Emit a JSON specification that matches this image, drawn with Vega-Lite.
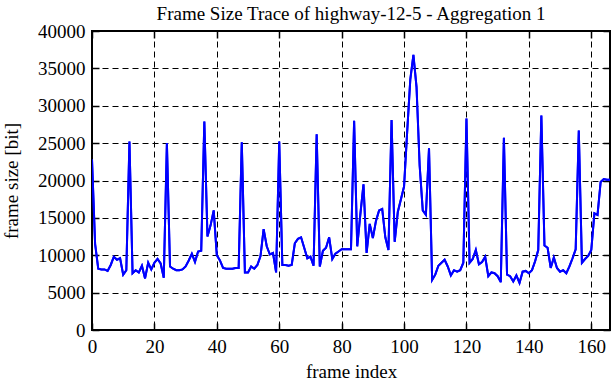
{
  "$schema": "https://vega.github.io/schema/vega-lite/v6.json",
  "width": 518,
  "height": 299,
  "autosize": "none",
  "padding": {"left": 92, "top": 31, "right": 2, "bottom": 52},
  "background": "white",
  "title": {"text": "Frame Size Trace of highway-12-5 - Aggregation 1", "font": "Liberation Serif", "fontSize": 19, "fontWeight": "normal", "color": "black", "offset": -2},
  "data": {"values": [
    {"frame": 0, "size": 22800}, {"frame": 1, "size": 11500}, {"frame": 2, "size": 8200}, {"frame": 3, "size": 8100}, {"frame": 4, "size": 8100},
    {"frame": 5, "size": 7900}, {"frame": 6, "size": 8700}, {"frame": 7, "size": 9800}, {"frame": 8, "size": 9400}, {"frame": 9, "size": 9600},
    {"frame": 10, "size": 7400}, {"frame": 11, "size": 8000}, {"frame": 12, "size": 25200}, {"frame": 13, "size": 7600}, {"frame": 14, "size": 8000},
    {"frame": 15, "size": 7700}, {"frame": 16, "size": 8600}, {"frame": 17, "size": 6900}, {"frame": 18, "size": 9000}, {"frame": 19, "size": 8100},
    {"frame": 20, "size": 9000}, {"frame": 21, "size": 9500}, {"frame": 22, "size": 8900}, {"frame": 23, "size": 7000}, {"frame": 24, "size": 25000},
    {"frame": 25, "size": 8500}, {"frame": 26, "size": 8200}, {"frame": 27, "size": 8000}, {"frame": 28, "size": 8000}, {"frame": 29, "size": 8100},
    {"frame": 30, "size": 8500}, {"frame": 31, "size": 9300}, {"frame": 32, "size": 10200}, {"frame": 33, "size": 9100}, {"frame": 34, "size": 10500},
    {"frame": 35, "size": 10600}, {"frame": 36, "size": 27900}, {"frame": 37, "size": 12500}, {"frame": 38, "size": 14000}, {"frame": 39, "size": 16000},
    {"frame": 40, "size": 10000}, {"frame": 41, "size": 9300}, {"frame": 42, "size": 8300}, {"frame": 43, "size": 8200}, {"frame": 44, "size": 8200},
    {"frame": 45, "size": 8200}, {"frame": 46, "size": 8300}, {"frame": 47, "size": 8300}, {"frame": 48, "size": 25100}, {"frame": 49, "size": 7700},
    {"frame": 50, "size": 7700}, {"frame": 51, "size": 8500}, {"frame": 52, "size": 8200}, {"frame": 53, "size": 8700}, {"frame": 54, "size": 9900},
    {"frame": 55, "size": 13500}, {"frame": 56, "size": 11200}, {"frame": 57, "size": 10100}, {"frame": 58, "size": 10300}, {"frame": 59, "size": 7700},
    {"frame": 60, "size": 25200}, {"frame": 61, "size": 8700}, {"frame": 62, "size": 8700}, {"frame": 63, "size": 8600}, {"frame": 64, "size": 8700},
    {"frame": 65, "size": 11600}, {"frame": 66, "size": 12200}, {"frame": 67, "size": 12400}, {"frame": 68, "size": 11000}, {"frame": 69, "size": 9600},
    {"frame": 70, "size": 9800}, {"frame": 71, "size": 8600}, {"frame": 72, "size": 26200}, {"frame": 73, "size": 8500}, {"frame": 74, "size": 10600},
    {"frame": 75, "size": 11000}, {"frame": 76, "size": 12400}, {"frame": 77, "size": 9500}, {"frame": 78, "size": 10200}, {"frame": 79, "size": 10500},
    {"frame": 80, "size": 10800}, {"frame": 81, "size": 10800}, {"frame": 82, "size": 10800}, {"frame": 83, "size": 10800}, {"frame": 84, "size": 28000},
    {"frame": 85, "size": 11200}, {"frame": 86, "size": 15500}, {"frame": 87, "size": 19500}, {"frame": 88, "size": 10300}, {"frame": 89, "size": 14200},
    {"frame": 90, "size": 12300}, {"frame": 91, "size": 14600}, {"frame": 92, "size": 16000}, {"frame": 93, "size": 16200}, {"frame": 94, "size": 12400},
    {"frame": 95, "size": 10700}, {"frame": 96, "size": 28100}, {"frame": 97, "size": 11800}, {"frame": 98, "size": 15800}, {"frame": 99, "size": 17500},
    {"frame": 100, "size": 19200}, {"frame": 101, "size": 26500}, {"frame": 102, "size": 33500}, {"frame": 103, "size": 36800}, {"frame": 104, "size": 32500},
    {"frame": 105, "size": 22000}, {"frame": 106, "size": 16000}, {"frame": 107, "size": 15400}, {"frame": 108, "size": 24300}, {"frame": 109, "size": 6700},
    {"frame": 110, "size": 7400}, {"frame": 111, "size": 8600}, {"frame": 112, "size": 9000}, {"frame": 113, "size": 9400}, {"frame": 114, "size": 8500},
    {"frame": 115, "size": 7300}, {"frame": 116, "size": 8000}, {"frame": 117, "size": 7800}, {"frame": 118, "size": 8000}, {"frame": 119, "size": 9000},
    {"frame": 120, "size": 28300}, {"frame": 121, "size": 9000}, {"frame": 122, "size": 9500}, {"frame": 123, "size": 10700}, {"frame": 124, "size": 8800},
    {"frame": 125, "size": 9100}, {"frame": 126, "size": 9800}, {"frame": 127, "size": 7200}, {"frame": 128, "size": 7700}, {"frame": 129, "size": 7600},
    {"frame": 130, "size": 7200}, {"frame": 131, "size": 6400}, {"frame": 132, "size": 25700}, {"frame": 133, "size": 7400}, {"frame": 134, "size": 7200},
    {"frame": 135, "size": 6500}, {"frame": 136, "size": 7300}, {"frame": 137, "size": 6300}, {"frame": 138, "size": 7800}, {"frame": 139, "size": 7900},
    {"frame": 140, "size": 7600}, {"frame": 141, "size": 8000}, {"frame": 142, "size": 9200}, {"frame": 143, "size": 10700}, {"frame": 144, "size": 28700},
    {"frame": 145, "size": 11300}, {"frame": 146, "size": 11000}, {"frame": 147, "size": 8300}, {"frame": 148, "size": 9700}, {"frame": 149, "size": 8300},
    {"frame": 150, "size": 7800}, {"frame": 151, "size": 8000}, {"frame": 152, "size": 7600}, {"frame": 153, "size": 8500}, {"frame": 154, "size": 9600},
    {"frame": 155, "size": 10800}, {"frame": 156, "size": 26700}, {"frame": 157, "size": 9000}, {"frame": 158, "size": 9500}, {"frame": 159, "size": 9900},
    {"frame": 160, "size": 10700}, {"frame": 161, "size": 15600}, {"frame": 162, "size": 15400}, {"frame": 163, "size": 19800}, {"frame": 164, "size": 20200},
    {"frame": 165, "size": 20100}, {"frame": 166, "size": 20100}
  ]},
  "layer": [
    {
      "mark": {"type": "line", "color": "#0000ff", "strokeWidth": 2, "clip": true},
      "encoding": {
        "x": {"field": "frame", "type": "quantitative", "scale": {"domain": [0, 166], "nice": false, "zero": false},
              "axis": {"title": "frame index", "values": [0, 20, 40, 60, 80, 100, 120, 140, 160], "format": "d", "orient": "bottom", "grid": true, "titlePadding": 6}},
        "y": {"field": "size", "type": "quantitative", "scale": {"domain": [0, 40000], "nice": false},
              "axis": {"title": "frame size [bit]", "values": [0, 5000, 10000, 15000, 20000, 25000, 30000, 35000, 40000], "format": "d", "orient": "left", "grid": true, "titlePadding": 16}}
      }
    },
    {
      "mark": {"type": "line", "color": "#0000ff", "strokeWidth": 2, "clip": true},
      "encoding": {
        "x": {"field": "frame", "type": "quantitative", "scale": {"domain": [0, 166], "nice": false, "zero": false},
              "axis": {"title": null, "values": [0, 20, 40, 60, 80, 100, 120, 140, 160], "orient": "top", "grid": false, "labels": false}},
        "y": {"field": "size", "type": "quantitative", "scale": {"domain": [0, 40000], "nice": false},
              "axis": {"title": null, "values": [0, 5000, 10000, 15000, 20000, 25000, 30000, 35000, 40000], "orient": "right", "grid": false, "labels": false}}
      }
    }
  ],
  "resolve": {"axis": {"x": "independent", "y": "independent"}},
  "config": {
    "view": {"stroke": "black", "strokeWidth": 2},
    "axis": {
      "domain": false, "labelFlush": false,
      "labelFont": "Liberation Serif", "labelFontSize": 19, "labelColor": "black",
      "titleFont": "Liberation Serif", "titleFontSize": 19, "titleFontWeight": "normal", "titleColor": "black",
      "gridColor": "black", "gridDash": [6, 4], "gridOpacity": 1, "gridWidth": 1,
      "tickColor": "black", "tickWidth": 1.5, "tickSize": -7, "labelPadding": 14
    }
  }
}
